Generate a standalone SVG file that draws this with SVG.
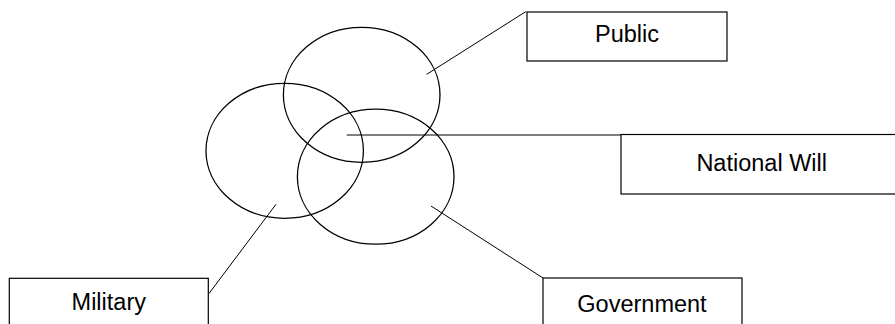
<svg xmlns="http://www.w3.org/2000/svg" width="895" height="324" viewBox="0 0 895 324">
  <style>
    .ring { fill: none; stroke: #000; stroke-width: 1.3; }
    .box { fill: #fff; stroke: #000; stroke-width: 1.2; }
    .lbl { font-family: "Liberation Sans", Arial, sans-serif; font-size: 23.5px; fill: #000; text-anchor: middle; }
    .link { stroke: #000; stroke-width: 1; fill: none; }
  </style>
  <rect width="895" height="324" fill="#fff"/>

  <!-- overlapping circles -->
  <g id="circles">
    <ellipse class="ring" cx="361.7" cy="94.8" rx="78.3" ry="67.5"/>
    <ellipse class="ring" cx="284.7" cy="150.8" rx="78.7" ry="67.5"/>
    <ellipse class="ring" cx="375.7" cy="176.7" rx="78.3" ry="67.5"/>
  </g>

  <!-- leader lines -->
  <g id="connectors">
    <line class="link" x1="426.7" y1="74.3" x2="526" y2="11.5"/>
    <line class="link" x1="346.7" y1="135" x2="621" y2="135"/>
    <line class="link" x1="276" y1="204.3" x2="209" y2="293.5"/>
    <line class="link" x1="431" y1="206" x2="543" y2="278"/>
  </g>

  <g id="public">
    <rect class="box" x="527" y="12" width="200" height="49"/>
    <text class="lbl" x="627" y="42">Public</text>
  </g>

  <g id="national-will">
    <rect class="box" x="621" y="134.5" width="281" height="59.5"/>
    <text class="lbl" x="761.7" y="170.7">National Will</text>
  </g>

  <g id="military">
    <rect class="box" x="9.3" y="278.3" width="199" height="60"/>
    <text class="lbl" x="108.8" y="310">Military</text>
  </g>

  <g id="government">
    <rect class="box" x="543" y="278" width="199" height="60"/>
    <text class="lbl" x="642" y="311.7">Government</text>
  </g>
</svg>
